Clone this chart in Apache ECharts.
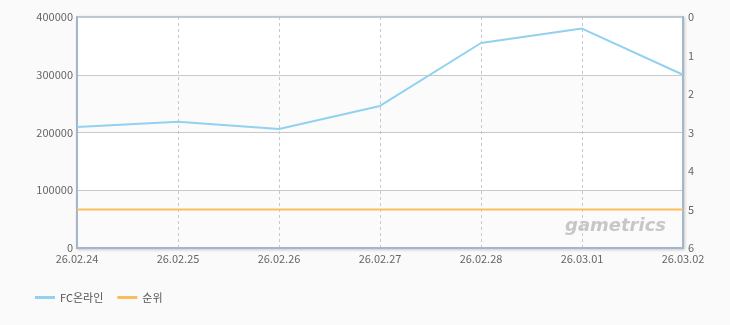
<!DOCTYPE html>
<html><head><meta charset="utf-8">
<script src="https://cdn.jsdelivr.net/npm/echarts@6/dist/echarts.min.js"></script>
<style>html,body{margin:0;padding:0;background:#fafafa}#c{width:730px;height:325px}</style>
</head><body><div id="c"></div>
<script>
const categories = ['26.02.24','26.02.25','26.02.26','26.02.27','26.02.28','26.03.01','26.03.02'];
const fcValues = [209500, 218500, 206000, 246000, 355000, 380000, 300000];
const rankValues = [5, 5, 5, 5, 5, 5, 5];
const seriesNames = ['FC온라인', '순위'];

const chart = echarts.init(document.getElementById('c'));
const font = 'Noto Sans CJK KR, DejaVu Sans, sans-serif';
chart.setOption({
  backgroundColor: '#fafafa',
  animation: false,
  grid: { left: 77, right: 47, top: 17, bottom: 77, show: true, backgroundColor: '#ffffff', borderColor: '#b7c8da', borderWidth: 2,
          shadowColor: 'rgba(0,0,0,0.15)', shadowBlur: 3, shadowOffsetX: 1, shadowOffsetY: 1 },
  legend: { left: 30, bottom: 17, itemWidth: 20, itemHeight: 3, itemGap: 14, icon: 'rect',
            textStyle: { color: '#555', fontSize: 11, fontFamily: font }, data: seriesNames },
  xAxis: { type: 'category', data: categories, boundaryGap: false,
    axisLine: { lineStyle: { color: '#a3b6ca', width: 2 } }, axisTick: { show: false },
    axisLabel: { color: '#666', fontSize: 11, fontFamily: font, margin: 5, showMaxLabel: true, showMinLabel: true },
    splitLine: { show: true, lineStyle: { color: '#c8c8c8', type: [3, 3] } } },
  yAxis: [
    { type: 'value', min: 0, max: 400000, interval: 100000,
      axisLine: { show: true, lineStyle: { color: '#a3b6ca', width: 2 } }, axisTick: { show: false },
      axisLabel: { color: '#666', fontSize: 11, fontFamily: font, margin: 4, formatter: v => String(v) },
      splitLine: { lineStyle: { color: '#c9c9c9' } },
      splitArea: { show: true, areaStyle: { color: ['#fbfbfb', '#ffffff'] } } },
    { type: 'value', min: 0, max: 6, interval: 1, inverse: true, position: 'right',
      axisLine: { show: true, lineStyle: { color: '#a3b6ca', width: 2 } }, axisTick: { show: false },
      axisLabel: { color: '#666', fontSize: 11, fontFamily: font, margin: 5 },
      splitLine: { show: false } }
  ],
  graphic: [{ type: 'text', left: 565, top: 217, z: 100, style: { text: 'gametrics', fill: '#bdbdbd', opacity: 0.85,
    fontSize: 18, fontStyle: 'italic', fontWeight: 'bold', fontFamily: 'DejaVu Sans' } }],
  series: [
    { name: seriesNames[0], type: 'line', data: fcValues, yAxisIndex: 0, showSymbol: false, symbol: 'none',
      lineStyle: { color: '#92d1f0', width: 2 }, itemStyle: { color: '#92d1f0' } },
    { name: seriesNames[1], type: 'line', data: rankValues, yAxisIndex: 1, showSymbol: false, symbol: 'none',
      lineStyle: { color: '#fbbd5c', width: 2 }, itemStyle: { color: '#fbbd5c' } }
  ]
});
</script></body></html>
